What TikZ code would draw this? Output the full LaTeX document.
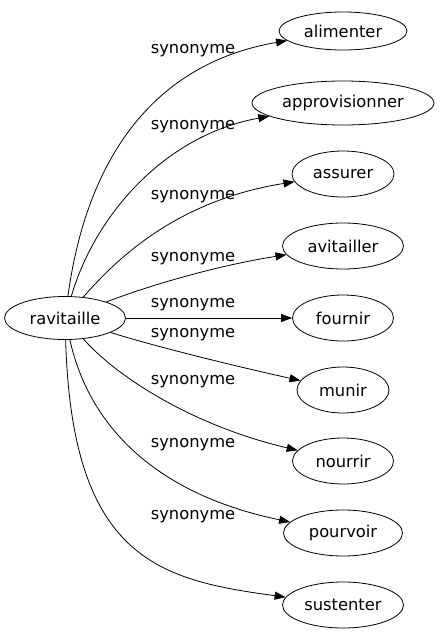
\documentclass[tikz,border=0pt]{standalone}
\usepackage{fontspec}
\setmainfont{DejaVu Sans}
\usetikzlibrary{shapes.geometric,arrows.meta}
\begin{document}
\begin{tikzpicture}[x=1pt,y=-1pt,
  word/.style={draw, ellipse, inner sep=0pt, line width=0.8pt, minimum height=46pt, font=\fontsize{16.3}{18}\selectfont},
  rel/.style={line width=0.8pt, -{Triangle[length=11pt,width=8pt]}},
  lbl/.style={font=\fontsize{16.3}{18}\selectfont, inner sep=0pt}]
\useasboundingbox (0,0) rectangle (440,635);
\node[word, minimum width=121pt, minimum height=43pt] (src) at (65,318) {ravitaille};
\node[word, minimum width=128pt, minimum height=38pt] (t1) at (343,31) {alimenter};
\node[word, minimum width=182pt, minimum height=44pt] (t2) at (343,103) {approvisionner};
\node[word, minimum width=102pt] (t3) at (343,174) {assurer};
\node[word, minimum width=121pt] (t4) at (343,246) {avitailler};
\node[word, minimum width=101pt] (t5) at (343,318) {fournir};
\node[word, minimum width=92pt] (t6) at (343,390) {munir};
\node[word, minimum width=101pt] (t7) at (343,461) {nourrir};
\node[word, minimum width=119pt] (t8) at (343,533) {pourvoir};
\node[word, minimum width=121pt] (t9) at (343,605) {sustenter};

\draw[rel] (src) .. controls (85,170) and (145,65) .. (t1);
\draw[rel] (src) .. controls (95,215) and (165,135) .. (t2);
\draw[rel] (src) .. controls (120,255) and (180,200) .. (t3);
\draw[rel] (src) .. controls (150,285) and (220,265) .. (t4);
\draw[rel] (src) -- (t5);
\draw[rel] (src) .. controls (150,345) and (230,365) .. (t6);
\draw[rel] (src) .. controls (115,375) and (190,425) .. (t7);
\draw[rel] (src) .. controls (90,430) and (160,495) .. (t8);
\draw[rel] (src) .. controls (72,560) and (160,580) .. (t9);

\node[lbl] (l1) at (193,51) {synonyme};
\node[lbl] (l2) at (193,127) {synonyme};
\node[lbl] (l3) at (193,197) {synonyme};
\node[lbl] (l4) at (193,259) {synonyme};
\node[lbl] (l5) at (193,305) {synonyme};
\node[lbl] (l6) at (193,335) {synonyme};
\node[lbl] (l7) at (193,382) {synonyme};
\node[lbl] (l8) at (193,445) {synonyme};
\node[lbl] (l9) at (193,517) {synonyme};
\end{tikzpicture}
\end{document}
